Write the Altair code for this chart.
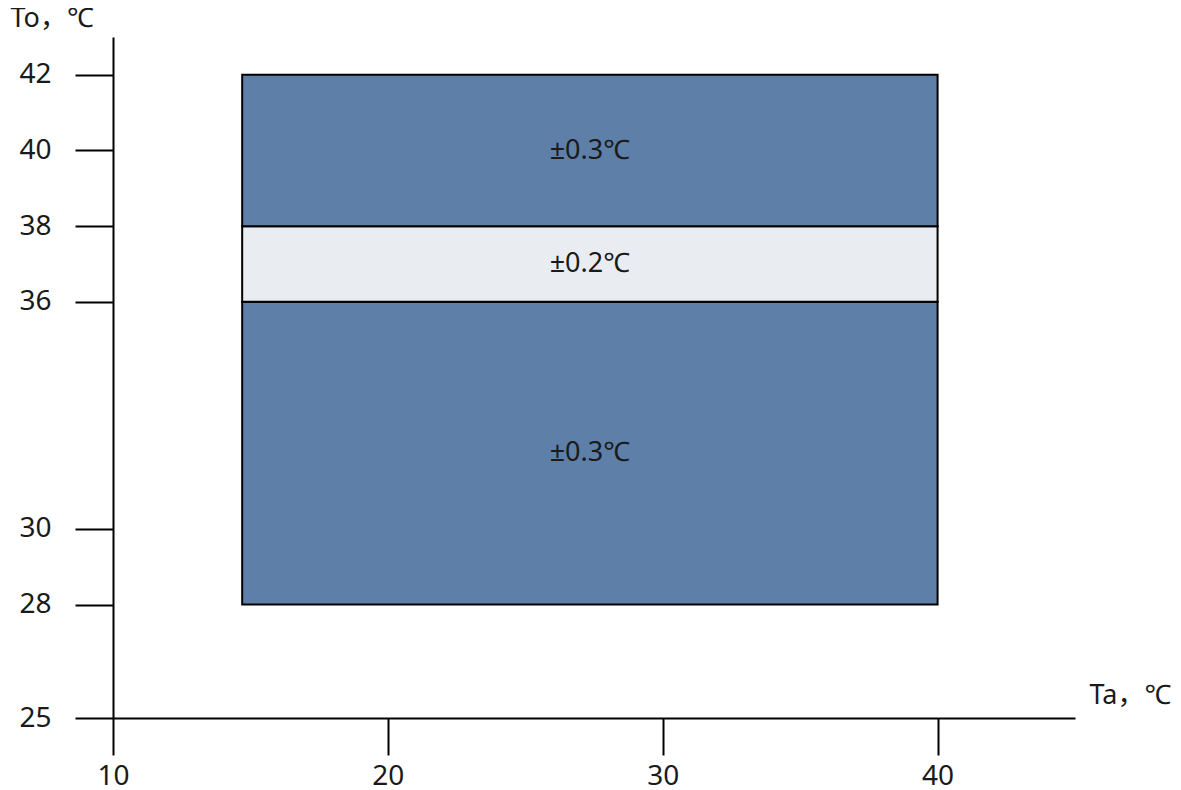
import altair as alt
import pandas as pd

# bands of the accuracy diagram
band_x0 = [14.7, 14.7, 14.7]
band_x1 = [40, 40, 40]
band_y0 = [28, 36, 38]
band_y1 = [36, 38, 42]
band_label = ["±0.3℃", "±0.2℃", "±0.3℃"]
band_kind = ["dark", "light", "dark"]

x_ticks = [10, 20, 30, 40]
y_ticks = [25, 28, 30, 36, 38, 40, 42]

df = pd.DataFrame({
    "x0": band_x0, "x1": band_x1, "y0": band_y0, "y1": band_y1,
    "label": band_label, "kind": band_kind,
})
df["xm"] = (df["x0"] + df["x1"]) / 2
df["ym"] = (df["y0"] + df["y1"]) / 2

FONT = "Noto Sans, Noto Sans CJK JP"
TXT = "#1a1a1a"
W, H = 962, 681

xs = alt.Scale(domain=[10, 45], nice=False, zero=False)
ys = alt.Scale(domain=[25, 43], nice=False, zero=False)

rects = alt.Chart(df).mark_rect(stroke="black", strokeWidth=2).encode(
    x=alt.X("x0:Q", scale=xs, axis=alt.Axis(
        values=x_ticks, grid=False, domainColor="black", domainWidth=2,
        tickColor="black", tickWidth=2, tickSize=37, labelPadding=7,
        labelFlush=False, labelFontSize=28, labelFont=FONT, labelColor=TXT,
        title="Ta，℃", titleFont=FONT, titleFontSize=27, titleFontWeight="normal",
        titleColor=TXT, titleAngle=0, titleAlign="left", titleBaseline="middle",
        titleX=976, titleY=-23)),
    x2="x1:Q",
    y=alt.Y("y0:Q", scale=ys, axis=alt.Axis(
        values=y_ticks, grid=False, domainColor="black", domainWidth=2,
        tickColor="black", tickWidth=2, tickSize=38, labelPadding=24,
        labelFlush=False, labelFontSize=28, labelFont=FONT, labelColor=TXT,
        title="To，℃", titleFont=FONT, titleFontSize=27, titleFontWeight="normal",
        titleColor=TXT, titleAngle=0, titleAlign="left", titleBaseline="middle",
        titleX=-103, titleY=-19)),
    y2="y1:Q",
    color=alt.Color("kind:N", scale=alt.Scale(domain=["dark", "light"],
                                               range=["#5e7fa8", "#e9edf2"]),
                    legend=None),
)

texts = alt.Chart(df).mark_text(font=FONT, fontSize=27, color=TXT,
                                 align="center", baseline="middle").encode(
    x=alt.X("xm:Q", scale=xs),
    y=alt.Y("ym:Q", scale=ys),
    text="label:N",
)

chart = (rects + texts).properties(
    width=W, height=H,
    background="white",
    autosize=alt.AutoSizeParams(type="none"),
    padding={"left": 105, "top": 29, "right": 97, "bottom": 72},
).configure_view(stroke=None)

chart.save("out.html", embed_options={"renderer": "svg", "actions": False})
